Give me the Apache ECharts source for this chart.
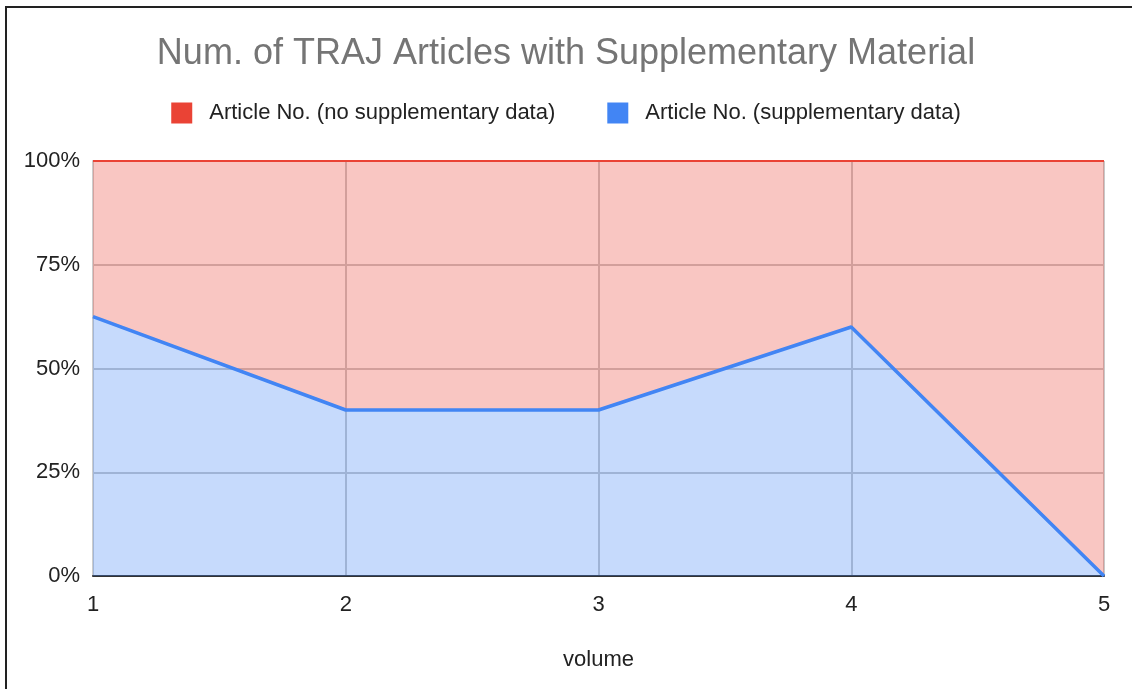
<!DOCTYPE html>
<html>
<head>
<meta charset="utf-8">
<script src="https://cdn.jsdelivr.net/npm/echarts@6/dist/echarts.min.js"></script>
<style>
    html, body { margin: 0; padding: 0; background: #fff; }
    #frame { position: absolute; left: 5px; top: 6px; width: 1127px; height: 683px; border-left: 2px solid #222; border-top: 2px solid #222; }
    #main { position: absolute; left: 0; top: 0; width: 1132px; height: 689px; }
</style>
</head>
<body>
<div id="frame"></div>
<div id="main"></div>
<script>
// 卷號
const volumes = ['1', '2', '3', '4', '5'];
// 百分比 (%)
const withSupp = [62.5, 40, 40, 60, 0];
const noSupp = [37.5, 60, 60, 40, 100];

const chart = echarts.init(document.getElementById('main'));

const font = 'Liberation Sans, Arial';

const option = {
    title: {
        text: 'Num. of TRAJ Articles with Supplementary Material',
        left: 'center',
        top: 31,
        textStyle: { color: '#757575', fontSize: 36, fontWeight: 'normal', fontFamily: font }
    },
    legend: {
        data: ['Article No. (no supplementary data)', 'Article No. (supplementary data)'],
        top: 97,
        left: 'center',
        icon: 'rect',
        itemWidth: 21,
        itemHeight: 21,
        itemGap: 52,
        textStyle: { color: '#222', fontSize: 22, fontFamily: font, padding: [0, 0, 0, 12] }
    },
    grid: { left: 93, right: 28, top: 161, bottom: 113, containLabel: false },
    xAxis: {
        type: 'category',
        data: volumes,
        boundaryGap: false,
        name: 'volume',
        nameLocation: 'middle',
        nameGap: 73,
        nameTextStyle: { color: '#222', fontSize: 22, fontFamily: font },
        axisLine: { lineStyle: { color: '#333', width: 2 } },
        axisTick: { show: false },
        axisLabel: { color: '#222', fontSize: 22, margin: 18, fontFamily: font },
        splitLine: { show: true, lineStyle: { color: '#c8c8c8', width: 2 } }
    },
    yAxis: {
        type: 'value',
        min: 0,
        max: 100,
        interval: 25,
        axisLine: { show: true, lineStyle: { color: '#ccc', width: 2 } },
        axisTick: { show: false },
        axisLabel: { color: '#222', fontSize: 22, margin: 13, formatter: '{value}%', fontFamily: font },
        splitLine: { lineStyle: { color: '#c8c8c8', width: 2 } }
    },
    series: [
        {
            name: 'Article No. (supplementary data)',
            type: 'line',
            stack: 'total',
            data: withSupp,
            symbol: 'none',
            itemStyle: { color: '#4285f4' },
            lineStyle: { color: '#4285f4', width: 3.5 },
            areaStyle: { color: '#4285f4', opacity: 0.3 }
        },
        {
            name: 'Article No. (no supplementary data)',
            type: 'line',
            stack: 'total',
            data: noSupp,
            symbol: 'none',
            itemStyle: { color: '#ea4335' },
            lineStyle: { color: '#ea4335', width: 2 },
            areaStyle: { color: '#ea4335', opacity: 0.3 }
        }
    ]
};

chart.setOption(option);
</script>
</body>
</html>
